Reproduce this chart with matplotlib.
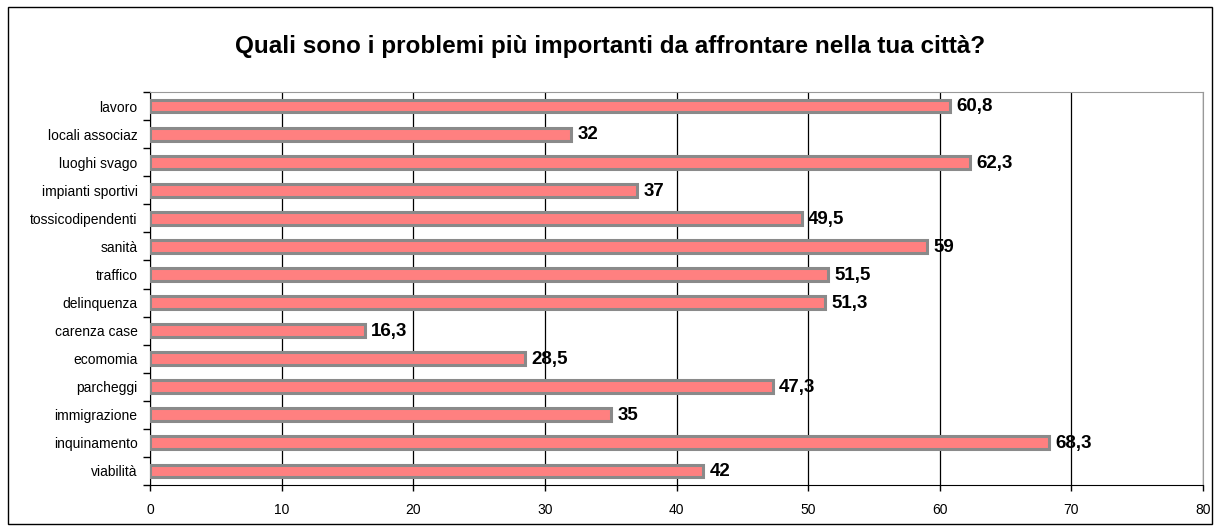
import matplotlib
matplotlib.use("Agg")
import matplotlib.pyplot as plt
from matplotlib.patches import Rectangle

categories = ["lavoro", "locali associaz", "luoghi svago", "impianti sportivi",
              "tossicodipendenti", "sanità", "traffico", "delinquenza",
              "carenza case", "ecomomia", "parcheggi", "immigrazione",
              "inquinamento", "viabilità"]
values = [60.8, 32, 62.3, 37, 49.5, 59, 51.5, 51.3, 16.3, 28.5, 47.3, 35, 68.3, 42]
value_labels = ["60,8", "32", "62,3", "37", "49,5", "59", "51,5", "51,3",
                "16,3", "28,5", "47,3", "35", "68,3", "42"]
xticks = [0, 10, 20, 30, 40, 50, 60, 70, 80]

plt.rcParams['font.family'] = ['Liberation Sans', 'DejaVu Sans']

fig = plt.figure(figsize=(12.2, 5.32), dpi=100)
fig.patches.append(Rectangle((8/1220, 1-524/532), 1204/1220, 517/532,
                             transform=fig.transFigure, fill=False,
                             edgecolor='black', linewidth=1))
ax = fig.add_axes([150/1220, 1-485/532, 1053/1220, 393/532])

n = len(categories)
ypos = list(range(n))
ax.barh(ypos, values, height=0.46, color='#FF8080', edgecolor='#8a8a8a',
        linewidth=2.2, zorder=3)
for y, v, lab in zip(ypos, values, value_labels):
    ax.text(v + 0.5, y + 0.03, lab, va='center', ha='left', fontsize=13.5,
            fontweight='bold', zorder=4)

ax.set_xlim(0, 80)
ax.set_ylim(n - 0.5, -0.5)
ax.set_yticks(ypos)
ax.set_yticklabels(categories, fontsize=10)
ax.set_yticks([i - 0.5 for i in range(n + 1)], minor=True)
ax.set_xticks(xticks)
ax.set_xticklabels([str(t) for t in xticks], fontsize=10)
ax.tick_params(axis='y', which='major', length=0, pad=9)
ax.tick_params(axis='y', which='minor', length=5, width=1)
ax.tick_params(axis='x', length=4, width=1, pad=9)
ax.xaxis.grid(True, color='black', linewidth=0.9, zorder=0)
ax.set_axisbelow(True)
for s in ['top', 'right']:
    ax.spines[s].set_color('#999999')
for s in ['left', 'bottom']:
    ax.spines[s].set_color('black')

fig.text(0.5, 1-46/532, "Quali sono i problemi più importanti da affrontare nella tua città?",
         ha='center', va='center', fontsize=17.5, fontweight='bold')

fig.savefig("out.png", dpi=100)
